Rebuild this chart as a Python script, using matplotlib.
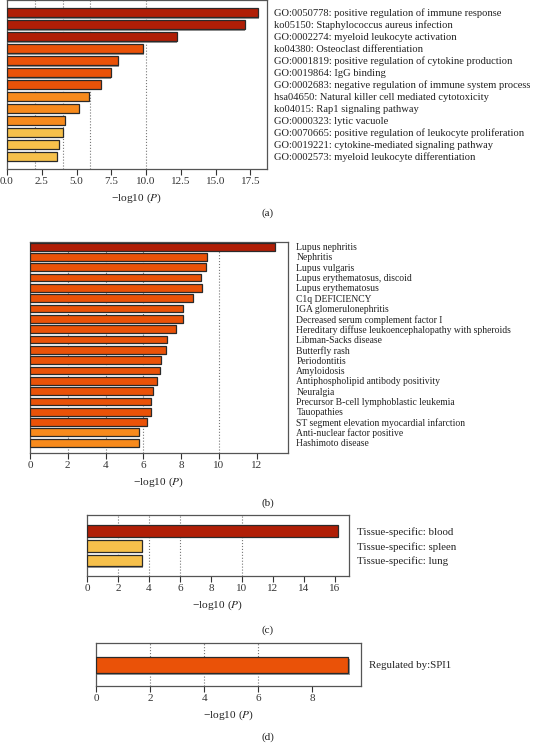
import matplotlib
matplotlib.use("Agg")
import matplotlib.pyplot as plt

# ---- data ----
a_terms = ["GO:0050778: positive regulation of immune response",
           "ko05150: Staphylococcus aureus infection",
           "GO:0002274: myeloid leukocyte activation",
           "ko04380: Osteoclast differentiation",
           "GO:0001819: positive regulation of cytokine production",
           "GO:0019864: IgG binding",
           "GO:0002683: negative regulation of immune system process",
           "hsa04650: Natural killer cell mediated cytotoxicity",
           "ko04015: Rap1 signaling pathway",
           "GO:0000323: lytic vacuole",
           "GO:0070665: positive regulation of leukocyte proliferation",
           "GO:0019221: cytokine-mediated signaling pathway",
           "GO:0002573: myeloid leukocyte differentiation"]
a_values = [18.05, 17.1, 12.2, 9.8, 8.0, 7.45, 6.73, 5.9, 5.15, 4.2, 4.06, 3.75, 3.58]
a_ticks = [0.0, 2.5, 5.0, 7.5, 10.0, 12.5, 15.0, 17.5]

b_terms = ["Lupus nephritis", "Nephritis", "Lupus vulgaris",
           "Lupus erythematosus, discoid", "Lupus erythematosus",
           "C1q DEFICIENCY", "IGA glomerulonephritis",
           "Decreased serum complement factor I",
           "Hereditary diffuse leukoencephalopathy with spheroids",
           "Libman-Sacks disease", "Butterfly rash", "Periodontitis",
           "Amyloidosis", "Antiphospholipid antibody positivity", "Neuralgia",
           "Precursor B-cell lymphoblastic leukemia", "Tauopathies",
           "ST segment elevation myocardial infarction",
           "Anti-nuclear factor positive", "Hashimoto disease"]
b_values = [12.96, 9.38, 9.3, 9.07, 9.1, 8.61, 8.12, 8.12, 7.73, 7.27,
            7.2, 6.92, 6.87, 6.71, 6.5, 6.39, 6.39, 6.18, 5.79, 5.76]
b_ticks = [0, 2, 4, 6, 8, 10, 12]

c_terms = ["Tissue-specific: blood", "Tissue-specific: spleen", "Tissue-specific: lung"]
c_values = [16.2, 3.55, 3.55]
c_ticks = [0, 2, 4, 6, 8, 10, 12, 14, 16]

d_terms = ["Regulated by:SPI1"]
d_values = [9.33]
d_ticks = [0, 2, 4, 6, 8]

DARK = "#b01e06"
RED = "#ea5208"
ORANGE = "#f78a1c"
YELLOW = "#f6c04b"

a_colors = [DARK] * 3 + [RED] * 4 + [ORANGE] * 3 + [YELLOW] * 3
b_colors = [DARK] + [RED] * 17 + [ORANGE] * 2
c_colors = [DARK, YELLOW, YELLOW]
d_colors = [RED]

plt.rcParams["font.family"] = ["Liberation Serif", "DejaVu Serif"]
plt.rcParams["mathtext.fontset"] = "stix"

W, H = 537, 743
fig = plt.figure(figsize=(W / 100, H / 100), dpi=100)


def panel(box, terms, values, colors, ticks, xmax, grid, ypad, height, fs, caption, cap_y,
          ticklabels=None, pad=6):
    left, top, right, bottom = box
    ax = fig.add_axes([left / W, 1 - bottom / H, (right - left) / W, (bottom - top) / H])
    n = len(values)
    ys = list(range(n))
    # little grey shadow under each bar
    ax.barh([y + 0.1 for y in ys], values, height=height, left=0.05, color="#9a9a9a", edgecolor="none", zorder=2)
    ax.barh(ys, values, height=height, color=colors, edgecolor="#2a2a2a", linewidth=0.9, zorder=3)
    for g in grid:
        ax.axvline(g, color="#777777", linestyle=":", linewidth=0.8, zorder=1)
    ax.set_xlim(0, xmax)
    ax.set_ylim(n - 1 + ypad[1], -ypad[0])
    ax.set_xticks(ticks)
    if ticklabels is not None:
        ax.set_xticklabels(ticklabels)
    ax.tick_params(axis="x", direction="out", length=4, width=0.8, pad=2, labelsize=8, colors="#333333")
    ax.yaxis.tick_right()
    ax.set_yticks(ys)
    ax.set_yticklabels(terms, fontsize=fs, color="#222222")
    ax.tick_params(axis="y", length=0, pad=pad)
    for s in ax.spines.values():
        s.set_color("#555555")
        s.set_linewidth(0.9)
    ax.set_xlabel("\u2212log10 ($P$)", fontsize=8.2, color="#222222", labelpad=4)
    fig.text(268 / W, 1 - cap_y / H, caption, ha="center", va="center", fontsize=8, color="#222222")
    return ax


panel((7, 0, 267, 169), a_terms, a_values, a_colors, a_ticks, 18.7, [2, 4, 6, 10],
      (1.05, 1.05), 0.8, 7.6, "(a)", 213, ticklabels=["%.1f" % t for t in a_ticks], pad=5)
panel((30, 242, 288, 453), b_terms, b_values, b_colors, b_ticks, 13.65, [2, 4, 6, 10],
      (0.45, 1.0), 0.75, 6.95, "(b)", 503)
panel((87, 515, 349, 576), c_terms, c_values, c_colors, c_ticks, 16.9, [2, 4, 6, 10],
      (1.08, 1.05), 0.8, 7.8, "(c)", 630)
panel((96, 643, 361, 686), d_terms, d_values, d_colors, d_ticks, 9.8, [2, 4, 6],
      (1.075, 1.075), 0.8, 7.8, "(d)", 737)

fig.savefig("out.png", dpi=100)
